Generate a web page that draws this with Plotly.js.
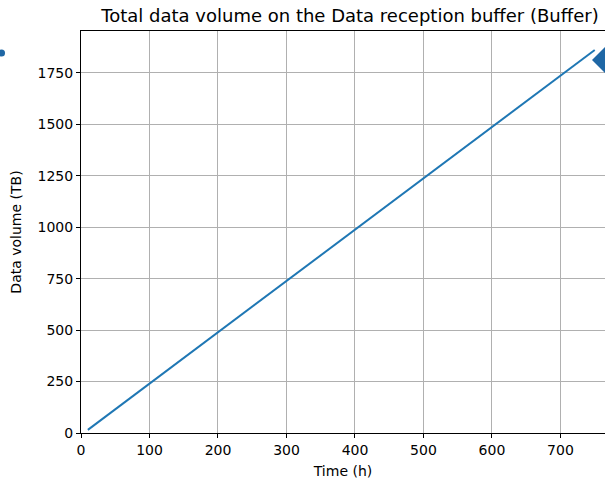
<!DOCTYPE html>
<html><head><meta charset="utf-8">
<script src="https://cdn.plot.ly/plotly-3.0.1.min.js"></script>
<style>body{margin:0;padding:0;background:#fff}#chart{width:605px;height:480px}</style>
</head><body><div id="chart"></div>
<script>
// Time (h) and cumulative data volume (TB)
const timeH = [10, 100, 200, 300, 400, 500, 600, 700, 750];
const volumeTB = [15, 240, 490, 740, 990, 1240, 1490, 1740, 1862];
// Extra marks partially clipped at the figure edges
const diamondX = [765];
const diamondY = [1813];
const dotX = [-116];
const dotY = [1847];
const xTicks = [0, 100, 200, 300, 400, 500, 600, 700];
const yTicks = [0, 250, 500, 750, 1000, 1250, 1500, 1750];

const W = 605, L = 81;
const xMax = 765, yMax = 1954;
const pxPerUnit = (W - L) / xMax;
const font = {family: 'DejaVu Sans', size: 14, color: '#000'};
const traces = [
  {x: timeH, y: volumeTB, type: 'scatter', mode: 'lines',
   line: {color: '#1f77b4', width: 2}, hoverinfo: 'skip'},
  {x: diamondX, y: diamondY, type: 'scatter', mode: 'markers', xaxis: 'x2', yaxis: 'y2',
   marker: {symbol: 'diamond', size: 20, color: '#1f67a5'}},
  {x: dotX, y: dotY, type: 'scatter', mode: 'markers', xaxis: 'x2', yaxis: 'y2',
   marker: {symbol: 'circle', size: 7, color: '#1f67a5'}}
];
const layout = {
  width: W, height: 480,
  margin: {l: 0, r: 0, t: 31, b: 47},
  paper_bgcolor: '#fff', plot_bgcolor: 'rgba(0,0,0,0)',
  showlegend: false,
  font: font,
  title: {text: 'Total data volume on the Data reception buffer (Buffer)',
          font: {family: 'DejaVu Sans', size: 18, color: '#000'},
          x: 350 / W, xanchor: 'center', y: 1 - 16 / 480, yanchor: 'middle'},
  xaxis: {domain: [L / W, 1], range: [0, xMax], tickvals: xTicks, ticktext: xTicks.map(String),
          anchor: 'y',
          showgrid: true, gridcolor: '#b0b0b0', gridwidth: 1,
          showline: true, linecolor: '#000', linewidth: 1, mirror: true,
          ticks: 'outside', ticklen: 4, tickcolor: '#000', zeroline: false,
          title: {text: 'Time (h)', font: font, standoff: 9}, automargin: false},
  yaxis: {domain: [0, 1], range: [0, yMax], tickvals: yTicks, ticktext: yTicks.map(String), anchor: 'x',
          showgrid: true, gridcolor: '#b0b0b0', gridwidth: 1,
          showline: true, linecolor: '#000', linewidth: 1, mirror: false,
          ticks: 'outside', ticklen: 4, tickcolor: '#000', zeroline: false,
          title: {text: 'Data volume (TB)', font: font, standoff: 12}, automargin: false},
  xaxis2: {domain: [0, 1], range: [-L / pxPerUnit, xMax], anchor: 'y2',
           visible: false, showgrid: false, zeroline: false, fixedrange: true},
  yaxis2: {domain: [0, 1], range: [0, yMax], anchor: 'x2',
           visible: false, showgrid: false, zeroline: false, fixedrange: true}
};
Plotly.newPlot('chart', traces, layout, {displayModeBar: false, staticPlot: true});
</script></body></html>
